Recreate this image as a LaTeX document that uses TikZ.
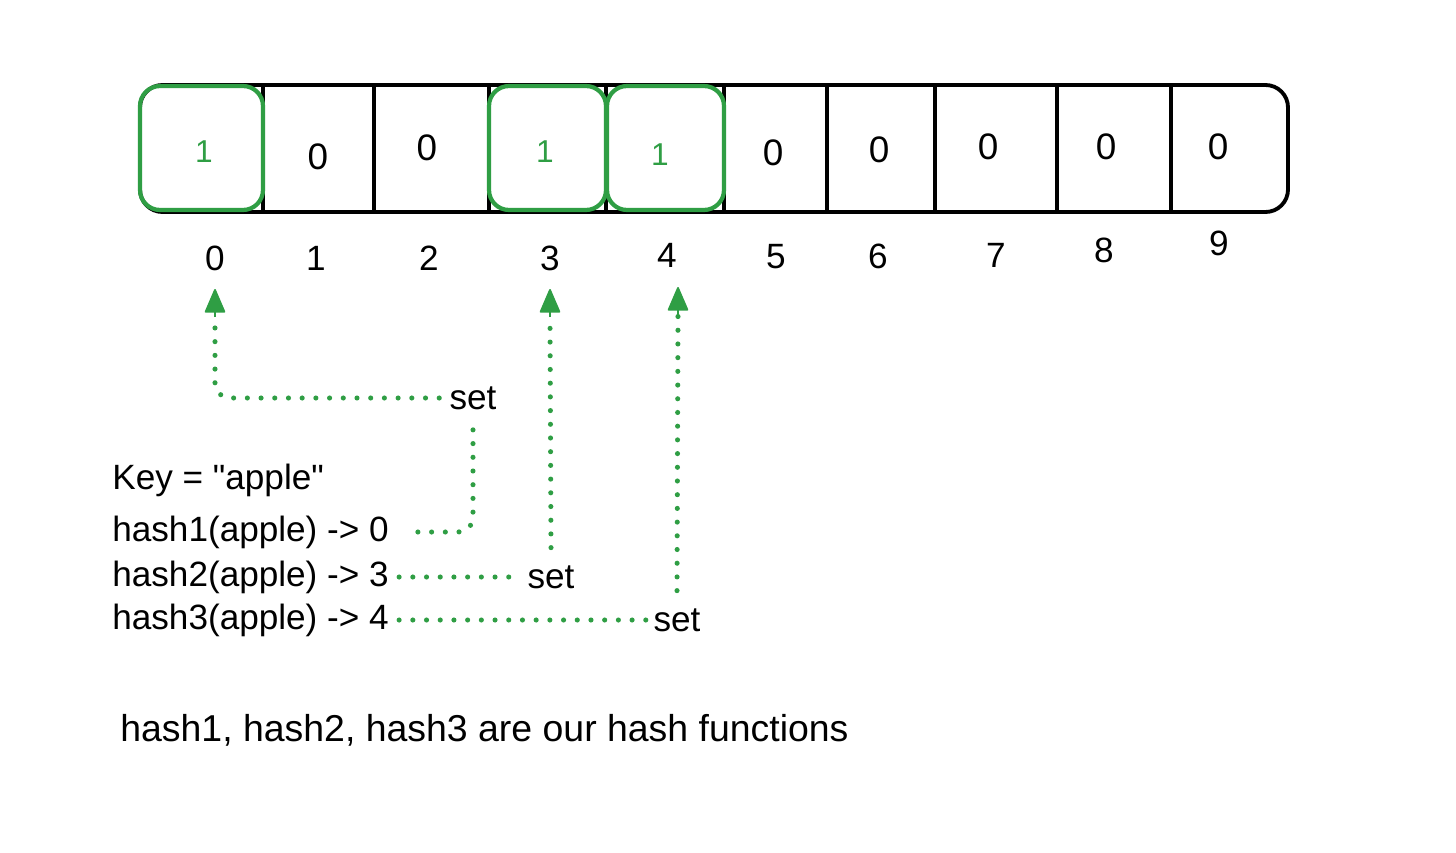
\documentclass[tikz,border=0pt]{standalone}
\usepackage{fontspec}
\setmainfont{Liberation Sans}
\usetikzlibrary{arrows.meta,calc}
\definecolor{grn}{RGB}{47,158,68}
\begin{document}
\begin{tikzpicture}[x=0.02cm,y=-0.02cm,
  txt/.style={font=\fontsize{20}{24}\selectfont, inner sep=0pt},
  val/.style={font=\fontsize{21}{24}\selectfont, inner sep=0pt},
  oneval/.style={font=\fontsize{18}{20}\selectfont, text=grn, inner sep=0pt},
  frame/.style={draw=black, line width=2.2pt, rounded corners=0.45cm},
  divider/.style={draw=black, line width=2pt},
  gbox/.style={draw=grn, line width=2.4pt, rounded corners=0.4cm, minimum height=2.48cm, inner sep=0pt},
  dotline/.style={draw=grn, line width=2.9pt, line cap=round, dash pattern=on 0pt off 7.8pt},
  tipup/.style={-{Triangle[length=0.5cm,width=0.42cm,round]}},
]
\useasboundingbox[fill=white] (0,0) rectangle (1456,852);
% array frame
\draw[frame] (140,85) rectangle (1288,212);
\foreach \x in {263,374,489,606,724,827,935,1057,1171}
  \draw[divider] (\x,86) -- (\x,211);
% highlighted cells
\node[gbox, minimum width=2.46cm] (g0) at (201.5,148) {};
\node[gbox, minimum width=2.34cm] (g3) at (547.5,148) {};
\node[gbox, minimum width=2.34cm] (g4) at (665.5,148) {};
% values
\node[oneval] (v0) at (204,152) {1};
\node[val] (v1) at (318,157) {0};
\node[val] (v2) at (427,148) {0};
\node[oneval] (v3) at (545,152) {1};
\node[oneval] (v4) at (660,155) {1};
\node[val] (v5) at (773,153) {0};
\node[val] (v6) at (879,150) {0};
\node[val] (v7) at (988,147) {0};
\node[val] (v8) at (1106,147) {0};
\node[val] (v9) at (1218,147) {0};
% indices
\node[txt] (i0) at (215,258) {0};
\node[txt] (i1) at (316,258) {1};
\node[txt] (i2) at (429,258) {2};
\node[txt] (i3) at (550,258) {3};
\node[txt] (i4) at (667,255) {4};
\node[txt] (i5) at (776,257) {5};
\node[txt] (i6) at (878,256) {6};
\node[txt] (i7) at (996,255) {7};
\node[txt] (i8) at (1104,250) {8};
\node[txt] (i9) at (1219,243) {9};
% arrow tip points
\coordinate (a0) at (215,289);
\coordinate (a3) at (550,289);
\coordinate (a4) at (678,287);
% texts
\node[txt, anchor=west] (key) at (112,480) {Key = \textquotedbl apple\textquotedbl};
\node[txt, anchor=west] (h1) at (112,532) {hash1(apple) -> 0};
\node[txt, anchor=west] (h2) at (112,577) {hash2(apple) -> 3};
\node[txt, anchor=west] (h3) at (112,620) {hash3(apple) -> 4};
\node[txt] (s1) at (473,398) {set};
\node[txt] (s2) at (551,577) {set};
\node[txt] (s3) at (677,620) {set};
\node[txt, anchor=west, font=\fontsize{21.3}{24}\selectfont] (cap) at (120,730) {hash1, hash2, hash3 are our hash functions};
% connectors
\draw[dotline, rounded corners=0.3cm] ([xshift=-0.2cm]s1.west) -| ($(a0)+(0,28)$);
\draw[grn, tipup, line width=1pt] ($(a0)+(0,28)$) -- (a0);
\draw[dotline, rounded corners=0.3cm] ([yshift=-0.4cm]s1.south) |- ([xshift=0.38cm]h1.east);
\draw[dotline] ([xshift=0.2cm]h2.east) -- ([xshift=-0.1cm]s2.west);
\draw[dotline] ([yshift=0.35cm]s2.north) -- ($(a3)+(0,28)$);
\draw[grn, tipup, line width=1pt] ($(a3)+(0,28)$) -- (a3);
\draw[dotline] ([xshift=0.2cm]h3.east) -- ([xshift=-0.1cm]s3.west);
\draw[dotline] ([yshift=0.35cm]s3.north) -- ($(a4)+(0,28)$);
\draw[grn, tipup, line width=1pt] ($(a4)+(0,28)$) -- (a4);
\end{tikzpicture}
\end{document}
